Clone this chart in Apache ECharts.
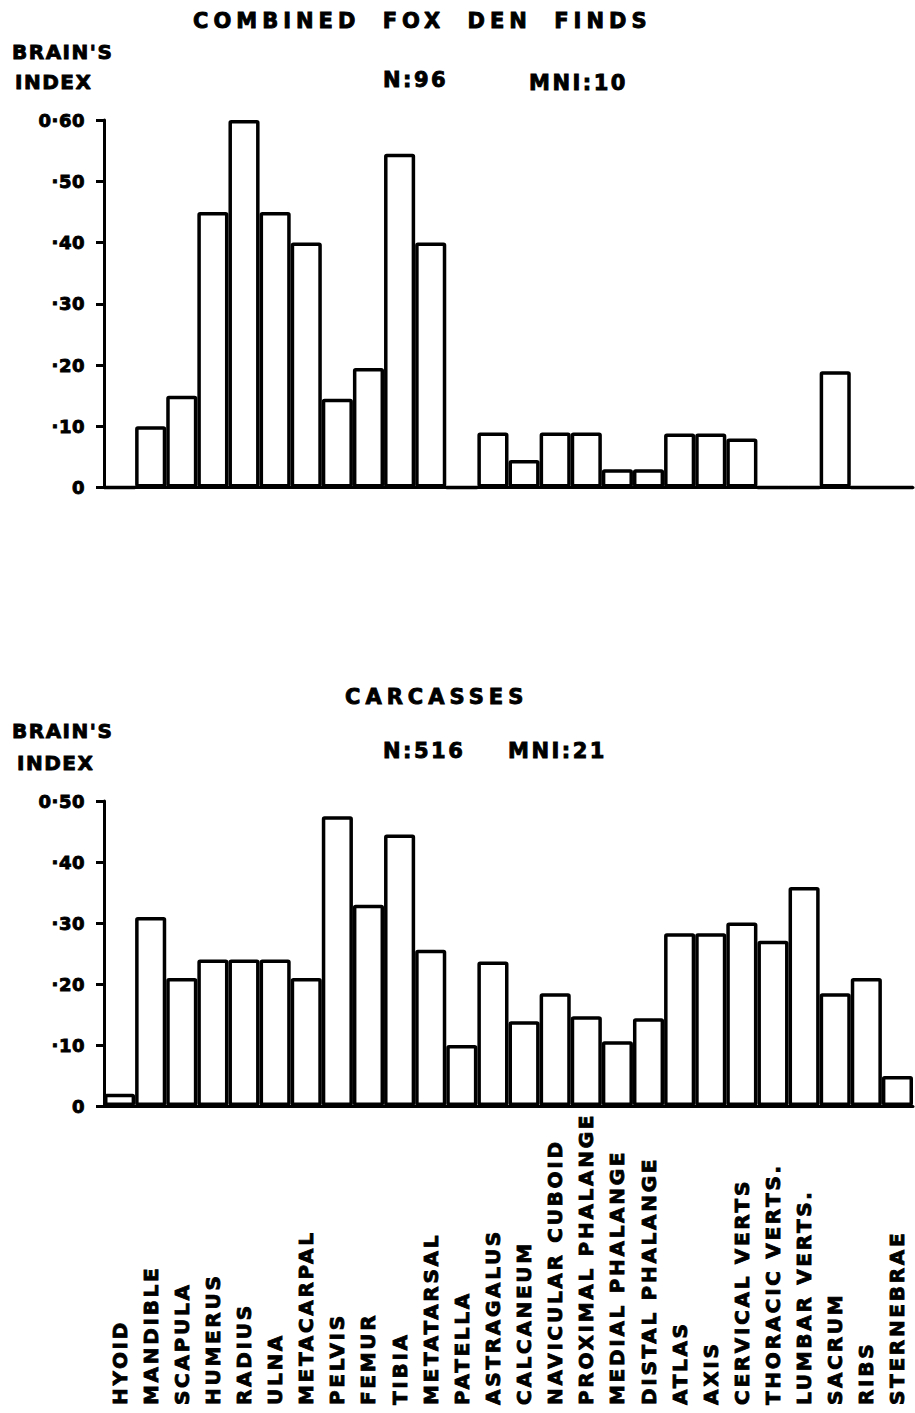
<!DOCTYPE html>
<html>
<head>
<meta charset="utf-8">
<script src="https://cdn.jsdelivr.net/npm/echarts@6/dist/echarts.min.js"></script>
<style>
  html, body { margin: 0; padding: 0; background: #fff; }
  #chart { width: 915px; height: 1413px; }
</style>
</head>
<body>
<div id="chart"></div>
<script>
// Skeletal elements, in anatomical order
const categories = [
  'HYOID', 'MANDIBLE', 'SCAPULA', 'HUMERUS', 'RADIUS', 'ULNA', 'METACARPAL',
  'PELVIS', 'FEMUR', 'TIBIA', 'METATARSAL', 'PATELLA', 'ASTRAGALUS', 'CALCANEUM',
  'NAVICULAR CUBOID', 'PROXIMAL PHALANGE', 'MEDIAL PHALANGE', 'DISTAL PHALANGE',
  'ATLAS', 'AXIS', 'CERVICAL VERTS', 'THORACIC VERTS.', 'LUMBAR VERTS.',
  'SACRUM', 'RIBS', 'STERNEBRAE'
];

// Brain's index — combined fox den finds (N=96, MNI=10)
const denFinds = [
  0, 0.10, 0.15, 0.45, 0.60, 0.45, 0.40,
  0.145, 0.195, 0.545, 0.40, 0, 0.09, 0.045,
  0.09, 0.09, 0.03, 0.03,
  0.088, 0.088, 0.08, 0, 0,
  0.19, 0, 0
];

// Brain's index — carcasses (N=516, MNI=21)
const carcasses = [
  0.02, 0.31, 0.21, 0.24, 0.24, 0.24, 0.21,
  0.475, 0.33, 0.445, 0.256, 0.10, 0.237, 0.139,
  0.185, 0.147, 0.106, 0.144,
  0.283, 0.283, 0.301, 0.271, 0.359,
  0.185, 0.21, 0.049
];

// Y tick labels
const denTicks = ['0', '·10', '·20', '·30', '·40', '·50', '0·60'];
const carcassTicks = ['0', '·10', '·20', '·30', '·40', '0·50'];

const FONT = '"DejaVu Sans", "Liberation Sans", sans-serif';
const INK = '#000';
const HEAVY = 0.9; // outline that thickens the lettering

function valueAxis(gridIndex, max, ticks) {
  return {
    type: 'value', gridIndex, min: 0, max, interval: 0.1,
    axisLine: { show: true, lineStyle: { color: INK, width: 3 } },
    axisTick: { show: true, length: 8, lineStyle: { color: INK, width: 3 } },
    splitLine: { show: false },
    axisLabel: {
      formatter: v => ticks[Math.round(v * 10)],
      color: INK, fontFamily: FONT, fontWeight: 'bold', fontSize: 18, margin: 19,
      textBorderColor: INK, textBorderWidth: HEAVY
    }
  };
}

function barSeries(idx, data) {
  return {
    type: 'bar', xAxisIndex: idx, yAxisIndex: idx, data,
    barCategoryGap: '0%', silent: true,
    itemStyle: { color: '#fff', borderColor: INK, borderWidth: 3.5, borderRadius: 1 }
  };
}

function label(text, x, y, size) {
  return {
    type: 'text', x, y, silent: true,
    style: {
      text, fill: INK, stroke: INK, lineWidth: HEAVY,
      font: 'bold ' + size + 'px ' + FONT,
      textAlign: 'left', textVerticalAlign: 'middle'
    }
  };
}

const chart = echarts.init(document.getElementById('chart'), null, { renderer: 'svg' });

chart.setOption({
  animation: false,
  backgroundColor: '#fff',
  grid: [
    { left: 104, right: 2, top: 120, height: 367.5 },
    { left: 104, right: 2, top: 801, height: 305 }
  ],
  xAxis: [
    {
      type: 'category', gridIndex: 0, data: categories,
      axisLine: { lineStyle: { color: INK, width: 3 } },
      axisTick: { show: false }, axisLabel: { show: false }
    },
    {
      type: 'category', gridIndex: 1, data: categories,
      axisLine: { lineStyle: { color: INK, width: 3 } },
      axisTick: { show: false },
      axisLabel: {
        interval: 0, rotate: 90, align: 'left', margin: 299,
        color: INK, fontFamily: FONT, fontWeight: 'bold', fontSize: 20,
        textBorderColor: INK, textBorderWidth: HEAVY
      }
    }
  ],
  yAxis: [valueAxis(0, 0.6, denTicks), valueAxis(1, 0.5, carcassTicks)],
  series: [barSeries(0, denFinds), barSeries(1, carcasses)],
  graphic: [
    label('COMBINED FOX DEN FINDS', 193, 20.5, 21),
    label("BRAIN'S", 12, 52, 20),
    label('INDEX', 15, 82, 20),
    label('N:96', 383, 80, 21),
    label('MNI:10', 529, 82.5, 21),
    label('CARCASSES', 345, 696.5, 21),
    label("BRAIN'S", 12, 731, 20),
    label('INDEX', 17, 762.5, 20),
    label('N:516', 383, 751, 21),
    label('MNI:21', 508, 751, 21)
  ]
});

// Lettering is widely tracked; apply spacing to the SVG text nodes
const headings = ['COMBINED FOX DEN FINDS', 'CARCASSES'];
const subheads = ['N:96', 'MNI:10', 'N:516', 'MNI:21'];
const axisNames = ["BRAIN'S", 'INDEX'];
function applySpacing() {
  document.querySelectorAll('#chart svg text').forEach(t => {
    const s = t.textContent.trim();
    if (headings.includes(s)) {
      t.style.letterSpacing = '5px';
      t.style.wordSpacing = '10px';
    } else if (subheads.includes(s)) {
      t.style.letterSpacing = '2.5px';
    } else if (axisNames.includes(s)) {
      t.style.letterSpacing = '1.5px';
    } else if (categories.includes(s)) {
      t.style.letterSpacing = '2.7px';
    } else {
      t.style.letterSpacing = '0.5px';
    }
  });
}
applySpacing();
chart.on('finished', applySpacing);
</script>
</body>
</html>
